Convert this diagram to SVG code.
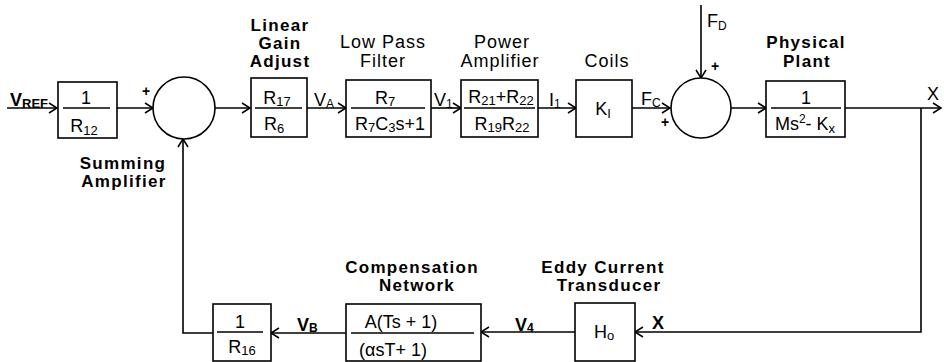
<svg xmlns="http://www.w3.org/2000/svg" width="944" height="362" viewBox="0 0 944 362">
<defs>
<marker id="arr" viewBox="-10 -6 12 12" refX="0" refY="0" markerWidth="12" markerHeight="12" markerUnits="userSpaceOnUse" orient="auto">
<path d="M-8,-5 L0,0 L-8,5" fill="none" stroke="#000" stroke-width="1.5"/>
</marker>
<style>
text{font-family:"Liberation Sans",Arial,sans-serif;fill:#000}
.lb{font-size:17px;font-weight:bold;letter-spacing:1.3px;text-anchor:middle}
.lr{font-size:18px;letter-spacing:1px;text-anchor:middle}
.m{font-size:18px;text-anchor:middle}
.s{font-size:18px}
.sb{font-size:18px;font-weight:bold}
.pl{font-size:14px;font-weight:bold}
.box{fill:#fff;stroke:#000;stroke-width:1.6}
.fr{stroke:#000;stroke-width:1.6}
.sum{fill:#fff;stroke:#000;stroke-width:1.6}
.c{fill:none;stroke:#000;stroke-width:1.6}
.a{marker-end:url(#arr)}
</style>
</defs>
<rect width="944" height="362" fill="#fff"/>

<g id="connectors">
<line class="c a" x1="7" y1="108" x2="57" y2="108"/>
<line class="c a" x1="117" y1="108" x2="153" y2="108"/>
<line class="c a" x1="215" y1="108" x2="250" y2="108"/>
<line class="c a" x1="307" y1="108" x2="346" y2="108"/>
<line class="c a" x1="431" y1="108" x2="461" y2="108"/>
<line class="c a" x1="538" y1="108" x2="576" y2="108"/>
<line class="c a" x1="632" y1="108" x2="670" y2="108"/>
<line class="c a" x1="701" y1="5" x2="701" y2="78"/>
<line class="c a" x1="731" y1="108" x2="766" y2="108"/>
<line class="c a" x1="845" y1="108" x2="941" y2="108"/>
<polyline class="c a" points="921,108 921,332 635,332"/>
<line class="c a" x1="575" y1="332" x2="481" y2="332"/>
<line class="c a" x1="346" y1="333" x2="271" y2="333"/>
<polyline class="c a" points="213,333 183,333 183,139"/>
<text class="sb" x="10" y="106">V<tspan font-size="13" dy="2">REF</tspan></text>
<text class="s" x="314" y="106">V<tspan font-size="12" dy="2">A</tspan></text>
<text class="s" x="434" y="106">V<tspan font-size="12" dy="2">1</tspan></text>
<text class="s" x="549" y="106">I<tspan font-size="12" dy="2">1</tspan></text>
<text class="s" x="641" y="105">F<tspan font-size="12" dy="2">C</tspan></text>
<text class="s" x="707" y="27">F<tspan font-size="12" dy="3">D</tspan></text>
<text class="s" x="927" y="100">X</text>
<text class="sb" x="652" y="329">X</text>
<text class="sb" x="515" y="331">V<tspan font-size="12" dy="1">4</tspan></text>
<text class="sb" x="297" y="331">V<tspan font-size="12" dy="1">B</tspan></text>
<text class="pl" x="142" y="96">+</text>
<text class="pl" x="661" y="127">+</text>
<text class="pl" x="711" y="71">+</text>
</g>

<g id="gain-in">
<rect class="box" x="58" y="82" width="59" height="56"/>
<line class="fr" x1="63" y1="108" x2="110" y2="108"/>
<text class="m" x="86" y="104">1</text>
<text class="m" x="84" y="132">R<tspan font-size="13" dy="3">12</tspan></text>
</g>

<g id="summing-amplifier">
<circle class="sum" cx="184" cy="108" r="31"/>
<text class="lb" x="123" y="169">Summing</text>
<text class="lb" x="124" y="187">Amplifier</text>
</g>

<g id="linear-gain-adjust">
<text class="lb" x="280" y="31">Linear</text>
<text class="lb" x="280" y="49">Gain</text>
<text class="lb" x="280" y="67">Adjust</text>
<rect class="box" x="251" y="78" width="56" height="59"/>
<line class="fr" x1="255" y1="108" x2="302" y2="108"/>
<text class="m" x="277" y="104">R<tspan font-size="13" dy="2">17</tspan></text>
<text class="m" x="274" y="130">R<tspan font-size="13" dy="3">6</tspan></text>
</g>

<g id="low-pass-filter">
<text class="lr" x="383" y="48">Low Pass</text>
<text class="lr" x="383" y="67">Filter</text>
<rect class="box" x="346" y="80" width="85" height="57"/>
<line class="fr" x1="351" y1="108" x2="425" y2="108"/>
<text class="m" x="385" y="104">R<tspan font-size="13" dy="2">7</tspan></text>
<text class="m" x="390" y="130">R<tspan font-size="13" dy="2">7</tspan><tspan dy="-2">C</tspan><tspan font-size="13" dy="2">3</tspan><tspan dy="-2">s+1</tspan></text>
</g>

<g id="power-amplifier">
<text class="lr" x="502" y="48">Power</text>
<text class="lr" x="500" y="67">Amplifier</text>
<rect class="box" x="461" y="80" width="77" height="57"/>
<line class="fr" x1="464" y1="108" x2="535" y2="108"/>
<text class="m" x="501" y="103">R<tspan font-size="13" dy="2">21</tspan><tspan dy="-2">+R</tspan><tspan font-size="13" dy="2">22</tspan></text>
<text class="m" x="502" y="130">R<tspan font-size="13" dy="2">19</tspan><tspan dy="-2">R</tspan><tspan font-size="13" dy="2">22</tspan></text>
</g>

<g id="coils">
<text class="lr" x="607" y="67">Coils</text>
<rect class="box" x="576" y="80" width="56" height="57"/>
<text class="m" x="603" y="115">K<tspan font-size="13" dy="3">I</tspan></text>
</g>

<g id="force-sum">
<circle class="sum" cx="701" cy="108" r="30"/>
</g>

<g id="physical-plant">
<text class="lb" x="806" y="48">Physical</text>
<text class="lb" x="807" y="67">Plant</text>
<rect class="box" x="766" y="81" width="79" height="56"/>
<line class="fr" x1="771" y1="108" x2="841" y2="108"/>
<text class="m" x="806" y="104">1</text>
<text class="m" x="805" y="130">Ms<tspan font-size="12" dy="-7">2</tspan><tspan dy="7">- K</tspan><tspan font-size="13" dy="3">x</tspan></text>
</g>

<g id="eddy-current-transducer">
<text class="lb" x="603" y="273">Eddy Current</text>
<text class="lb" x="609" y="291">Transducer</text>
<rect class="box" x="575" y="303" width="60" height="58"/>
<text class="m" x="604" y="338">H<tspan font-size="13" dy="2">o</tspan></text>
</g>

<g id="compensation-network">
<text class="lb" x="412" y="273">Compensation</text>
<text class="lb" x="417" y="291">Network</text>
<rect class="box" x="346" y="304" width="135" height="57"/>
<line class="fr" x1="351" y1="333" x2="474" y2="333"/>
<text class="m" x="401" y="328">A(Ts + 1)</text>
<text class="m" x="393" y="356">(αsT+ 1)</text>
</g>

<g id="gain-fb">
<rect class="box" x="213" y="304" width="58" height="57"/>
<line class="fr" x1="217" y1="332" x2="263" y2="332"/>
<text class="m" x="240" y="328">1</text>
<text class="m" x="242" y="353">R<tspan font-size="13" dy="2">16</tspan></text>
</g>
</svg>
